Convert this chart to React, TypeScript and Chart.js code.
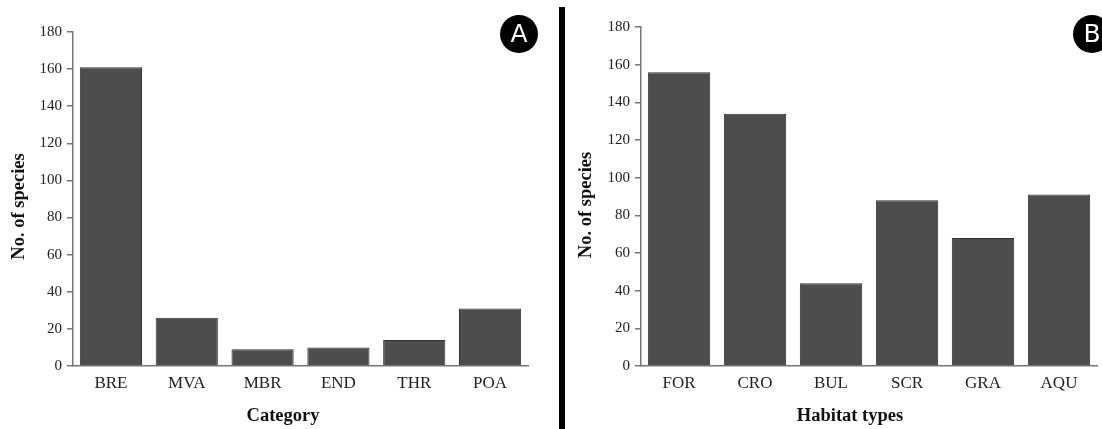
import React, { useEffect, useRef } from 'react';
import { Chart, registerables } from 'chart.js';

Chart.register(...registerables);

const categoriesA = ['BRE', 'MVA', 'MBR', 'END', 'THR', 'POA'];
const valuesA = [161, 26, 9, 10, 14, 31];
const categoriesB = ['FOR', 'CRO', 'BUL', 'SCR', 'GRA', 'AQU'];
const valuesB = [156, 134, 44, 88, 68, 91];
const yMin = 0;
const yMax = 180;
const yStep = 20;
const xTitleA = 'Category';
const xTitleB = 'Habitat types';
const yTitle = 'No. of species';
const badgeA = 'A';
const badgeB = 'B';

const SERIF = "'Liberation Serif', 'Times New Roman', serif";

const axisTitlesPlugin = {
  id: 'axisTitles',
  afterDraw(chart: any, _args: any, opts: any) {
    const ctx = chart.ctx;
    const ca = chart.chartArea;
    ctx.save();
    ctx.fillStyle = '#111111';
    ctx.font = `bold 18.5px ${SERIF}`;
    ctx.textAlign = 'center';
    ctx.textBaseline = 'alphabetic';
    ctx.fillText(opts.xTitle, (ca.left + ca.right) / 2 + opts.xShift, chart.height - 8);
    ctx.translate(opts.yX, (ca.top + ca.bottom) / 2 + opts.yShift);
    ctx.rotate(-Math.PI / 2);
    ctx.textBaseline = 'middle';
    ctx.fillText(opts.yTitle, 0, 0);
    ctx.restore();
  },
};

function makeConfig(
  labels: string[],
  values: number[],
  xTitle: string,
  yWidth: number,
  padTop: number,
  padRight: number,
  xShift: number,
  yShift: number,
  yX: number
): any {
  return {
    type: 'bar',
    data: {
      labels,
      datasets: [
        {
          data: values,
          backgroundColor: '#4d4d4d',
          borderColor: '#333333',
          borderWidth: 1,
          barPercentage: 0.82,
          categoryPercentage: 1,
        },
      ],
    },
    plugins: [axisTitlesPlugin],
    options: {
      responsive: false,
      animation: false,
      devicePixelRatio: 1,
      layout: { padding: { top: padTop, right: padRight, left: 0, bottom: 0 } },
      plugins: {
        legend: { display: false },
        tooltip: { enabled: false },
        axisTitles: { xTitle, yTitle, xShift, yShift, yX },
      },
      scales: {
        x: {
          grid: { display: false, drawTicks: false },
          border: { display: true, color: '#777777', width: 1.5 },
          ticks: { color: '#222222', padding: 7, font: { family: SERIF, size: 17 } },
          afterFit: (s: any) => {
            s.height = 63;
          },
        },
        y: {
          min: yMin,
          max: yMax,
          grid: { drawOnChartArea: false, drawTicks: true, tickLength: 6, color: '#777777', lineWidth: 1.5 },
          border: { display: true, color: '#777777', width: 1.5 },
          ticks: { stepSize: yStep, color: '#222222', padding: 5, font: { family: SERIF, size: 15 } },
          afterFit: (s: any) => {
            s.width = yWidth;
          },
        },
      },
    },
  };
}

function BarPanel(props: {
  left: number;
  width: number;
  labels: string[];
  values: number[];
  xTitle: string;
  yWidth: number;
  padTop: number;
  padRight: number;
  xShift: number;
  yShift: number;
  yX: number;
}) {
  const ref = useRef<HTMLCanvasElement | null>(null);
  useEffect(() => {
    if (!ref.current) return;
    const chart = new Chart(
      ref.current,
      makeConfig(props.labels, props.values, props.xTitle, props.yWidth, props.padTop, props.padRight, props.xShift, props.yShift, props.yX)
    );
    return () => chart.destroy();
  }, []);
  return (
    <canvas
      ref={ref}
      width={props.width}
      height={429}
      style={{ position: 'absolute', left: props.left, top: 0, width: props.width, height: 429 }}
    />
  );
}

function Badge(props: { cx: number; cy: number; text: string }) {
  const d = 38;
  return (
    <div
      style={{
        position: 'absolute',
        left: props.cx - d / 2,
        top: props.cy - d / 2,
        width: d,
        height: d,
        borderRadius: '50%',
        background: '#000',
        color: '#fff',
        fontFamily: "'DejaVu Sans', 'Open Sans', sans-serif",
        fontSize: 25,
        lineHeight: d + 'px',
        textAlign: 'center',
      }}
    >
      {props.text}
    </div>
  );
}

export default function App() {
  return (
    <div style={{ position: 'fixed', left: 0, top: 0, width: 1102, height: 429, background: '#fff', overflow: 'hidden' }}>
      <BarPanel left={0} width={559} labels={categoriesA} values={valuesA} xTitle={xTitleA} yWidth={73} padTop={32} padRight={31} xShift={-17.5} yShift={7.5} yX={19} />
      <BarPanel left={566} width={536} labels={categoriesB} values={valuesB} xTitle={xTitleB} yWidth={75} padTop={27} padRight={5} xShift={-19} yShift={8.5} yX={20} />
      <div style={{ position: 'absolute', left: 559, top: 7, width: 6, height: 422, background: '#000' }} />
      <Badge cx={519} cy={34} text={badgeA} />
      <Badge cx={1092} cy={34} text={badgeB} />
    </div>
  );
}
